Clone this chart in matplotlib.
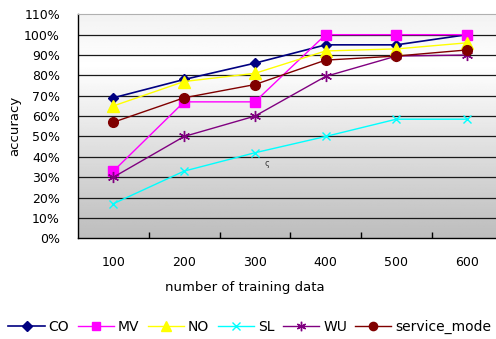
import numpy as np
import matplotlib
matplotlib.use("Agg")
import matplotlib.pyplot as plt
from matplotlib.ticker import FixedLocator, PercentFormatter

# Data
training_sizes = ["100", "200", "300", "400", "500", "600"]
co = [69, 78, 86, 95, 95, 100]
mv = [33, 67, 67, 100, 100, 100]
no = [65, 77, 81, 92, 93, 96]
sl = [17, 33, 42, 50, 58.5, 58.5]
wu = [30, 50, 60, 79.5, 89.5, 90]
service_mode = [57, 69, 75.5, 87.5, 89.5, 92.5]

series = [
    ("CO", co, "#000080", "D", 5.5, 1.2),
    ("MV", mv, "#ff00ff", "s", 7, 1.0),
    ("NO", no, "#ffff00", "^", 8, 1.0),
    ("SL", sl, "#00ffff", "x", 6, 1.0),
    ("WU", wu, "#800080", (6, 2, 0), 8, 1.0),
    ("service_mode", service_mode, "#800000", "o", 7, 1.0),
]

plt.rcParams["font.family"] = ["DejaVu Sans"]

W, H = 496, 339
fig = plt.figure(figsize=(W / 100, H / 100), dpi=100)
left, right, top, bottom = 78, 502.5, 14.3, 238.3
ax = fig.add_axes([left / W, 1 - bottom / H, (right - left) / W, (bottom - top) / H])

x = np.arange(len(training_sizes))
ax.set_xlim(-0.5, len(training_sizes) - 0.5)
ax.set_ylim(0, 110)

# vertical gray gradient background
yy = np.linspace(0, 110, 256)
shade = np.interp(yy, [0, 85, 110], [0.74, 1.0, 0.95])
grad = np.repeat(shade[:, None], 2, axis=1)
ax.imshow(grad, extent=(-0.5, len(training_sizes) - 0.5, 0, 110), origin="lower",
          cmap="gray", vmin=0, vmax=1, aspect="auto", zorder=0)

for yv in range(10, 110, 10):
    ax.axhline(yv, color="#1a1a1a", lw=0.9, zorder=1)

for name, vals, color, marker, ms, lw in series:
    ax.plot(x, vals, color=color, lw=lw, marker=marker, markersize=ms,
            markeredgecolor=color, markerfacecolor=color, markeredgewidth=1.0,
            label=name, zorder=3)

# small stray glyph inside the plot
ax.text(2.17, 36.8, "ς", fontsize=6, color="#333333",
        ha="center", va="center", zorder=2)

ax.spines["right"].set_visible(False)
ax.spines["top"].set_color("#b0b0b0")
ax.spines["left"].set_color("black")
ax.spines["bottom"].set_color("black")
ax.spines["left"].set_linewidth(1.0)
ax.spines["bottom"].set_linewidth(1.0)

ax.yaxis.set_major_locator(FixedLocator(np.arange(0, 111, 10)))
ax.yaxis.set_major_formatter(PercentFormatter(decimals=0))
ax.tick_params(axis="y", length=0, pad=13, labelsize=9)

ax.set_xticks(x)
ax.set_xticklabels(training_sizes)
ax.xaxis.set_minor_locator(FixedLocator(np.arange(0.5, len(training_sizes) - 0.5, 1)))
ax.tick_params(axis="x", which="major", length=0, pad=13, labelsize=9)
ax.tick_params(axis="x", which="minor", direction="in", length=4, width=1, color="black")

ax.set_ylabel("accuracy", fontsize=9.5)
ax.yaxis.set_label_coords(-57 / (right - left), 0.5)
ax.set_xlabel("number of training data", fontsize=9.5)
ax.xaxis.set_label_coords((245 - left) / (right - left), -(281 - bottom) / (bottom - top))

fig.legend(loc="center", bbox_to_anchor=(250 / W, 1 - 327 / H), ncol=6, frameon=False,
           fontsize=10, handlelength=2.6, handletextpad=0.3, columnspacing=0.6,
           borderaxespad=0, borderpad=0, markerscale=0.85)

fig.savefig("out.png", dpi=100, facecolor="white")
